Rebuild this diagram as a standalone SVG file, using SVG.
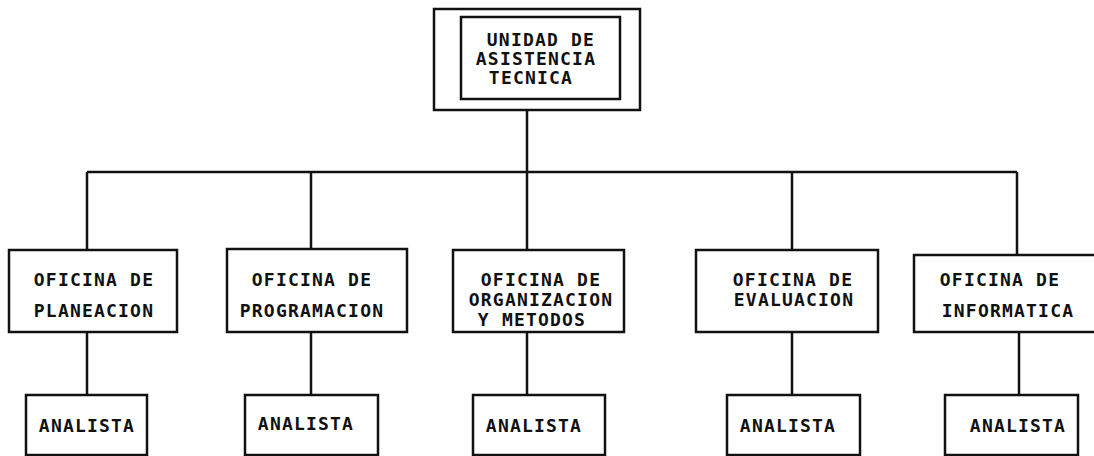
<svg xmlns="http://www.w3.org/2000/svg" width="1094" height="456" viewBox="0 0 1094 456">
<style>
.b{fill:#fff;stroke:#111;stroke-width:2.5}
.c{fill:none;stroke:#111;stroke-width:2.5}
text{font-family:"DejaVu Sans Mono","Liberation Mono",monospace;font-weight:bold;font-size:18px;fill:#111;text-anchor:middle;letter-spacing:1.2px}
</style>
<rect width="1094" height="456" fill="#fff"/>
<g id="connectors">
<path class="c" d="M527 110V172M87 172H1017M87 172V250M311 172V249M527 172V250M792 172V250M1017 172V255"/>
<path class="c" d="M87 332V395M311 332V395M527 332V395M792 332V395M1019 332V395"/>
</g>
<g id="n-unidad">
<rect class="b" x="434" y="9" width="206" height="101"/>
<rect class="b" x="461" y="17" width="159" height="82"/>
<text x="541" y="46">UNIDAD DE</text>
<text x="536" y="65">ASISTENCIA</text>
<text x="531" y="84">TECNICA</text>
</g>
<g id="n-planeacion">
<rect class="b" x="9" y="250" width="168" height="82"/>
<text x="94" y="286">OFICINA DE</text>
<text x="94" y="317">PLANEACION</text>
</g>
<g id="n-programacion">
<rect class="b" x="227" y="249" width="180" height="83"/>
<text x="312" y="286">OFICINA DE</text>
<text x="312" y="317">PROGRAMACION</text>
</g>
<g id="n-organizacion">
<rect class="b" x="453" y="250" width="171" height="82"/>
<text x="541" y="286">OFICINA DE</text>
<text x="541" y="306">ORGANIZACION</text>
<text x="532" y="326">Y METODOS</text>
</g>
<g id="n-evaluacion">
<rect class="b" x="696" y="250" width="182" height="82"/>
<text x="793" y="286">OFICINA DE</text>
<text x="794" y="306">EVALUACION</text>
</g>
<g id="n-informatica">
<rect class="b" x="914" y="255" width="190" height="77"/>
<text x="1000" y="286">OFICINA DE</text>
<text x="1008" y="317">INFORMATICA</text>
</g>
<g id="n-analista1">
<rect class="b" x="26" y="395" width="121" height="60"/>
<text x="87" y="432">ANALISTA</text>
</g>
<g id="n-analista2">
<rect class="b" x="245" y="395" width="133" height="60"/>
<text x="306" y="430">ANALISTA</text>
</g>
<g id="n-analista3">
<rect class="b" x="473" y="395" width="132" height="60"/>
<text x="534" y="432">ANALISTA</text>
</g>
<g id="n-analista4">
<rect class="b" x="727" y="395" width="133" height="60"/>
<text x="788" y="432">ANALISTA</text>
</g>
<g id="n-analista5">
<rect class="b" x="945" y="395" width="133" height="60"/>
<text x="1018" y="432">ANALISTA</text>
</g>
</svg>
